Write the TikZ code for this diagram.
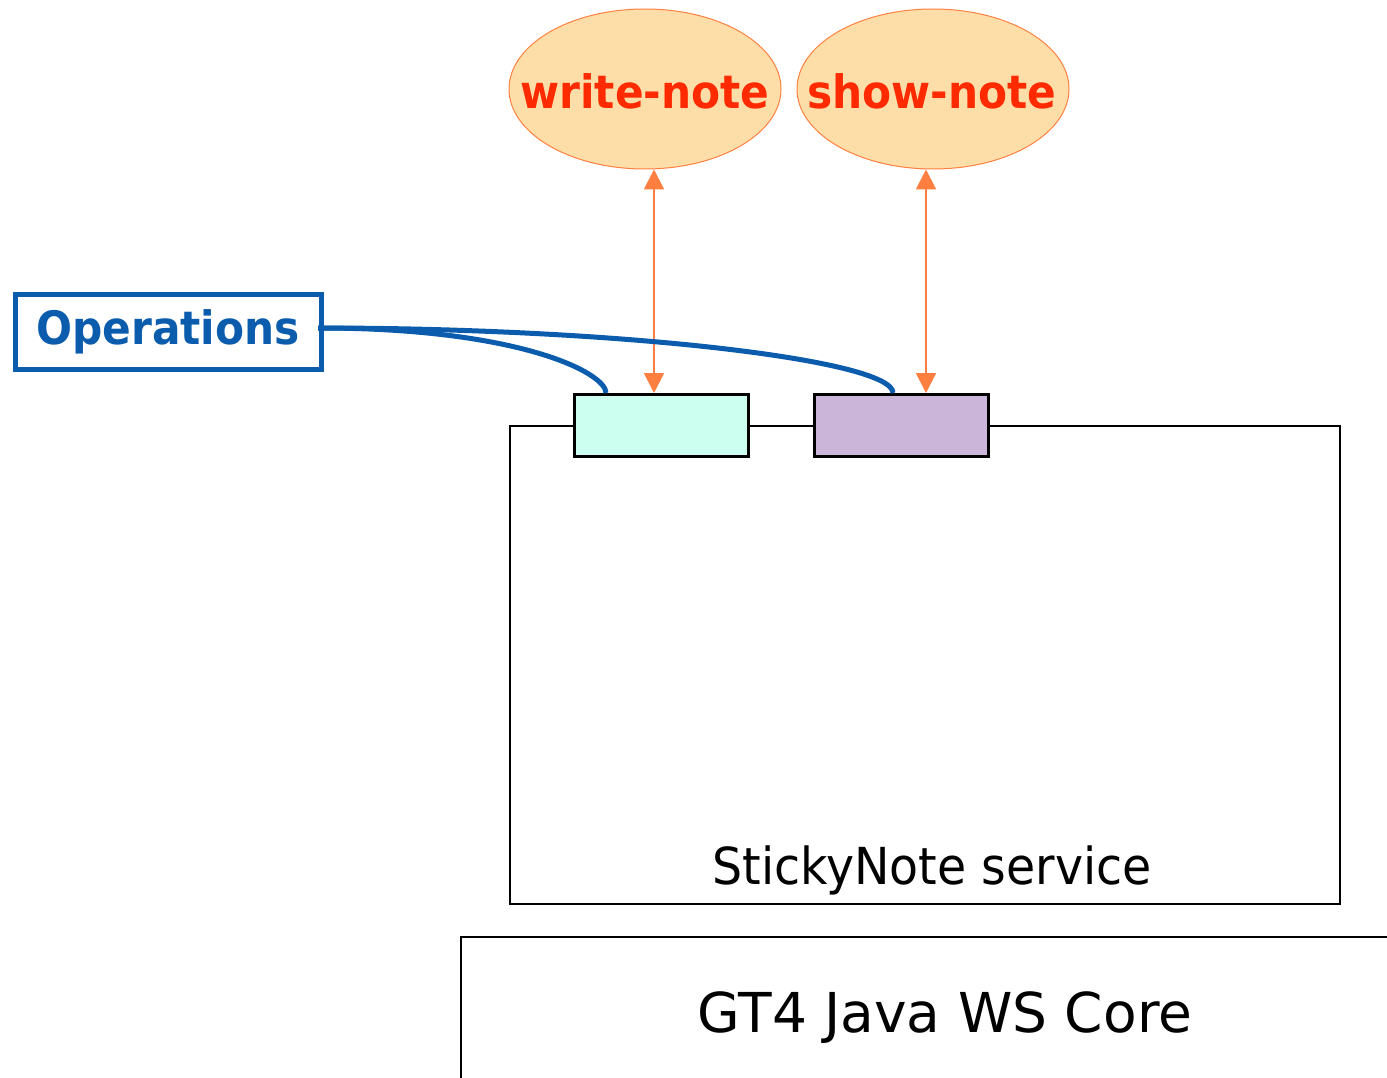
\documentclass[tikz,border=0pt]{standalone}
\usepackage{fontspec}
\setmainfont{DejaVu Sans}
\newfontfamily\lblfont[FakeStretch=0.92]{DejaVu Sans}
\newfontfamily\svcfont[FakeStretch=0.93]{DejaVu Sans}
\usetikzlibrary{shapes.geometric,arrows.meta}
\definecolor{ellfill}{HTML}{FDDEA9}
\definecolor{ellline}{HTML}{FF8040}
\definecolor{elltext}{HTML}{FF2A00}
\definecolor{opblue}{HTML}{0B5CAD}
\definecolor{cyanfill}{HTML}{CCFFF0}
\definecolor{purpfill}{HTML}{CBB6DA}
\definecolor{orarrow}{HTML}{FF7F40}
\tikzset{
  opell/.style={ellipse, draw=ellline, line width=1pt, fill=ellfill, minimum width=272pt, minimum height=160pt, inner sep=0pt},
  elltxt/.style={inner sep=0pt, text=elltext, font=\fontsize{46}{52}\lblfont\bfseries},
  opsbox/.style={rectangle, draw=opblue, line width=5pt, minimum width=306pt, minimum height=75pt, inner sep=0pt, text=opblue, font=\fontsize{46}{52}\lblfont\bfseries},
  portbox/.style={rectangle, draw=black, line width=3pt, minimum width=174pt, minimum height=62pt, inner sep=0pt},
  svcbox/.style={rectangle, draw=black, line width=2.5pt, minimum width=830pt, minimum height=478pt, inner sep=0pt},
  oarr/.style={draw=orarrow, line width=2pt, {Triangle[length=20pt,width=20pt]}-{Triangle[length=20pt,width=20pt]}},
  bluelink/.style={draw=opblue, line width=5pt},
  bigtext/.style={inner sep=0pt, anchor=base}
}
\begin{document}
\begin{tikzpicture}[x=1pt,y=-1pt]
\useasboundingbox (0,0) rectangle (1387,1078);
\clip (0,0) rectangle (1387,1078);
% service box
\node[svcbox] (svc) at (925,665) {};
\node[bigtext, font=\fontsize{51}{58}\svcfont] (svclabel) at (932,884) {StickyNote service};
% GT4 core box
\draw[black, line width=2.5pt] (1400,937) -- (461,937) -- (461,1100);
\node[bigtext, font=\fontsize{55}{62}\selectfont] (core) at (945,1032) {GT4 Java WS Core};
% ports
\node[portbox, fill=cyanfill] (pa) at (661,425) {};
\node[portbox, fill=purpfill] (pb) at (901,425) {};
% ellipses
\node[opell] (wn) at (645,89) {};
\node[elltxt] (wntext) at (645,91) {write-note};
\node[opell] (sn) at (933,89) {};
\node[elltxt] (sntext) at (932,91) {show-note};
% Operations
\node[opsbox] (ops) at (168,331.5) {Operations};
% arrows
\coordinate (a1) at (654,393);
\coordinate (a2) at (926,393);
\draw[oarr] (wn.south -| a1) -- (a1);
\draw[oarr] (sn.south -| a2) -- (a2);
% blue links
\coordinate (o1) at (318,328);
\coordinate (b1) at (606,393);
\coordinate (b2) at (893,393);
\draw[bluelink] (o1) .. controls (520,328) and (606,373) .. (b1);
\draw[bluelink] (o1) .. controls (620,328) and (893,360) .. (b2);
\end{tikzpicture}
\end{document}
